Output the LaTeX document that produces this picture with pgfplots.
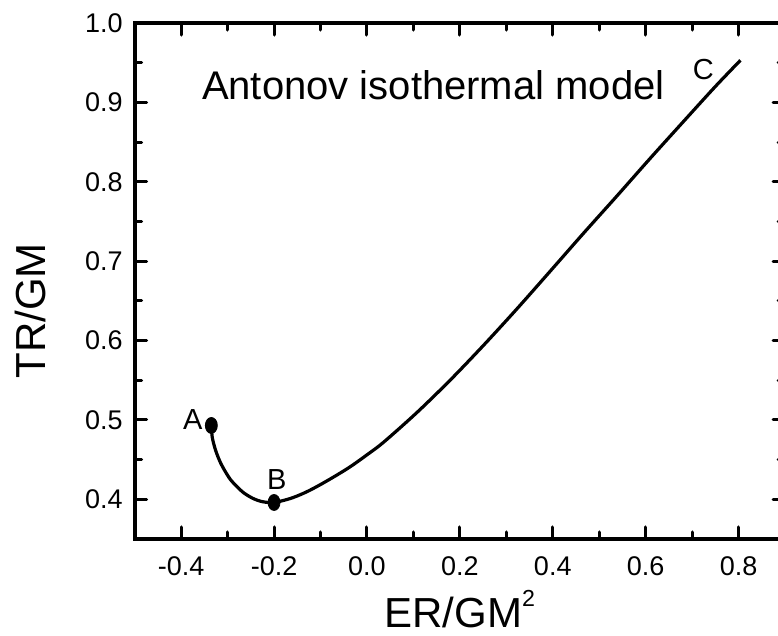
\documentclass[border=0pt]{standalone}
\usepackage{pgfplots}
\pgfplotsset{compat=1.18}
\usepackage{fontspec}
\setmainfont{Liberation Sans}

\begin{document}
\begin{tikzpicture}
% page is cut at the right edge, as in the original figure
\useasboundingbox (-67.35pt,-48.5pt) rectangle (321.65pt,269.5pt);
\begin{axis}[
  at={(0,0)}, anchor=south west,
  scale only axis,
  width=325.15pt, height=258pt,
  xmin=-0.5, xmax=0.9,
  ymin=0.35, ymax=1.0,
  xtick={-0.4,-0.2,0,0.2,0.4,0.6,0.8},
  xticklabels={-0.4,-0.2,0.0,0.2,0.4,0.6,0.8},
  ytick={0.4,0.5,0.6,0.7,0.8,0.9,1.0},
  yticklabels={0.4,0.5,0.6,0.7,0.8,0.9,1.0},
  minor x tick num=1,
  minor y tick num=1,
  tick align=inside,
  major tick length=6pt,
  minor tick length=3.5pt,
  every tick/.style={black, line width=1.5pt, line cap=round},
  axis line style={line width=2pt, line join=miter},
  tick label style={font=\fontsize{13.5}{16}\selectfont},
  yticklabel style={anchor=east, inner sep=0pt, xshift=-5.8pt},
  xticklabel style={anchor=north, inner sep=0pt, yshift=-8.5pt},
  clip=false,
]

% Antonov isothermal sphere: temperature vs energy
\addplot[black, line width=1.6pt, smooth, no markers] coordinates {
  (-0.335, 0.493)
  (-0.333, 0.478)
  (-0.326, 0.462)
  (-0.316, 0.447)
  (-0.305, 0.435)
  (-0.294, 0.425)
  (-0.280, 0.416)
  (-0.265, 0.408)
  (-0.245, 0.401)
  (-0.225, 0.397)
  (-0.200, 0.396)
  (-0.165, 0.401)
  (-0.135, 0.408)
  (-0.108, 0.416)
  (-0.072, 0.428)
  (-0.036, 0.441)
  (0.000, 0.456)
  (0.036, 0.472)
  (0.107, 0.509)
  (0.179, 0.550)
  (0.251, 0.594)
  (0.323, 0.640)
  (0.394, 0.687)
  (0.466, 0.735)
  (0.538, 0.782)
  (0.609, 0.829)
  (0.680, 0.875)
  (0.750, 0.920)
  (0.804, 0.953)
};

% points A and B
\addplot[black, only marks, mark=*, mark size=4pt, mark options={xscale=0.75}]
  coordinates {(-0.335, 0.493) (-0.200, 0.396)};

\node[anchor=base, font=\fontsize{14.5}{16}\selectfont] at (axis cs:-0.375,0.488) {A};
\node[anchor=base, font=\fontsize{14.5}{16}\selectfont] at (axis cs:-0.194,0.4126) {B};
\node[anchor=base, font=\fontsize{14.5}{16}\selectfont] at (axis cs:0.724,0.929) {C};

\node[anchor=base west, inner sep=0pt, font=\fontsize{20}{24}\selectfont]
  at (axis description cs:0.103,0.851) {Antonov isothermal model};

\node[anchor=base, inner sep=0pt, font=\fontsize{21}{24}\selectfont]
  at (axis description cs:0.5,-0.172)
  {ER/GM\raisebox{10.5pt}{\fontsize{11.6}{12}\selectfont 2}};
\node[rotate=90, anchor=center, inner sep=0pt, font=\fontsize{21}{24}\selectfont]
  at (axis description cs:-0.161,0.442) {TR/GM};

\end{axis}
\end{tikzpicture}
\end{document}
